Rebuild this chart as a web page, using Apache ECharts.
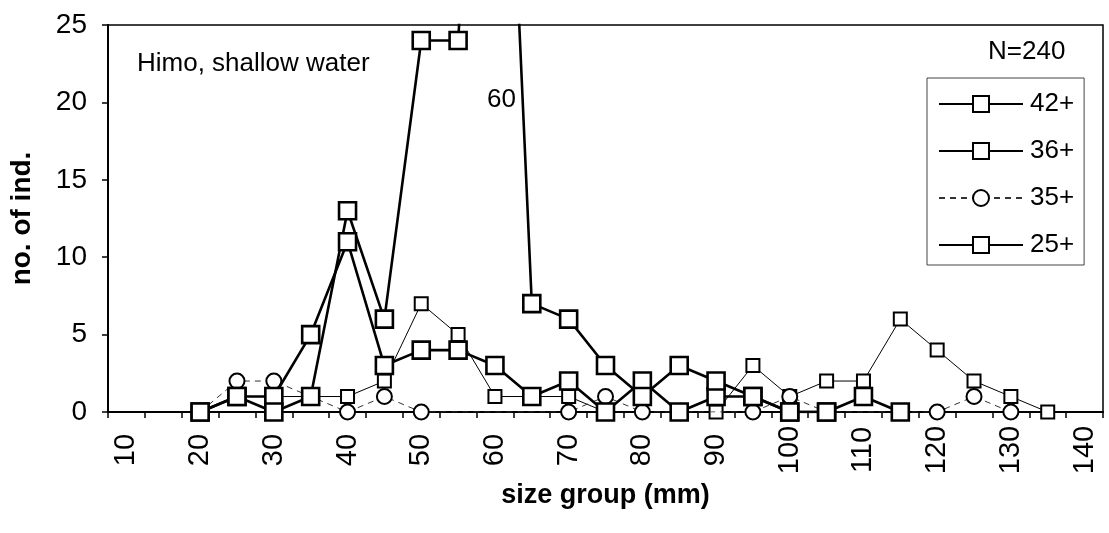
<!DOCTYPE html>
<html>
<head>
<meta charset="utf-8">
<script src="https://cdn.jsdelivr.net/npm/echarts@6/dist/echarts.min.js"></script>
<style>
html,body{margin:0;padding:0;background:#fff;}
#chart{width:1109px;height:533px;}
</style>
</head>
<body>
<div id="chart"></div>
<script>
// size groups (mm)
const categories = ['10','15','20','25','30','35','40','45','50','55','60','65','70','75','80','85','90','95','100','105','110','115','120','125','130','135','140'];
// number of individuals per size group
const s42 = [null,null,0,1,1,5,11,3,4,4,3,1,2,0,2,0,1,1,0,0,null,null,null,null,null,null,null];
const s36 = [null,null,0,1,0,1,13,6,24,24,60,7,6,3,1,3,2,1,0,0,1,0,null,null,null,null,null];
const s35 = [null,null,0,2,2,1,0,1,0,null,null,null,0,1,0,0,null,0,1,0,null,null,0,1,0,null,null];
const s25 = [null,null,0,1,1,1,1,2,7,5,1,1,1,0,2,0,0,3,1,2,2,6,4,2,1,0,null];
const yTicks = [0,5,10,15,20,25];
const seriesNames = ['42+','36+','35+','25+'];

const FONT = '"Liberation Sans", Arial, sans-serif';
const chart = echarts.init(document.getElementById('chart'), null, {renderer:'canvas'});

const thickSeries = (name, data) => ({
  name, type:'line', data, connectNulls:true,
  symbol:'rect', symbolSize:17,
  lineStyle:{color:'#000', width:2.6},
  itemStyle:{color:'#fff', borderColor:'#000', borderWidth:2.6},
  emphasis:{disabled:true}, z:4
});

chart.setOption({
  backgroundColor:'#fff',
  animation:false,
  grid:{left:107, right:6, top:25, bottom:121, show:true, borderColor:'#000', borderWidth:1.5, backgroundColor:'transparent'},
  xAxis:{
    type:'category', data:categories, boundaryGap:true,
    name:'size group (mm)', nameLocation:'middle', nameGap:66,
    nameTextStyle:{fontFamily:FONT, fontSize:27, fontWeight:'bold', color:'#000'},
    axisLine:{lineStyle:{color:'#000', width:2}},
    axisTick:{show:true, interval:0, length:6, lineStyle:{color:'#000', width:1.5}},
    axisLabel:{interval:1, rotate:90, align:'center', verticalAlign:'middle', margin:38, fontFamily:FONT, fontSize:29, color:'#000'},
    splitLine:{show:false}
  },
  yAxis:{
    type:'value', min:yTicks[0], max:yTicks[yTicks.length-1], interval:5,
    name:'no. of ind.', nameLocation:'middle', nameGap:72, nameRotate:90,
    nameTextStyle:{fontFamily:FONT, fontSize:28, fontWeight:'bold', color:'#000'},
    axisLine:{show:true, lineStyle:{color:'#000', width:2}},
    axisTick:{show:true, length:6, lineStyle:{color:'#000', width:1.5}},
    axisLabel:{margin:21, fontFamily:FONT, fontSize:28, color:'#000'},
    splitLine:{show:false}
  },
  legend:{
    data:seriesNames, orient:'vertical', left:927, top:78,
    padding:[13,10,7,11], itemGap:21, itemWidth:84, itemHeight:20,
    borderColor:'#444', borderWidth:1, backgroundColor:'#fff',
    textStyle:{fontFamily:FONT, fontSize:26, color:'#000', padding:[0,0,0,2]},
    selectedMode:false
  },
  graphic:[
    {type:'text', left:137, top:51, style:{text:'Himo, shallow water', font:'26px '+FONT, fill:'#000'}},
    {type:'text', left:988, top:39, style:{text:'N=240', font:'26px '+FONT, fill:'#000'}},
    {type:'text', left:487, top:87, style:{text:'60', font:'26px '+FONT, fill:'#000'}}
  ],
  series:[
    {
      name:'25+', type:'line', data:s25, connectNulls:true,
      symbol:'rect', symbolSize:13,
      lineStyle:{color:'#000', width:1},
      itemStyle:{color:'#fff', borderColor:'#000', borderWidth:2},
      emphasis:{disabled:true}, z:2
    },
    {
      name:'35+', type:'line', data:s35, connectNulls:true,
      symbol:'circle', symbolSize:15,
      lineStyle:{color:'#333', width:1, type:[6,5]},
      itemStyle:{color:'#fff', borderColor:'#000', borderWidth:2},
      emphasis:{disabled:true}, z:3
    },
    thickSeries('42+', s42),
    thickSeries('36+', s36)
  ]
});
</script>
</body>
</html>
